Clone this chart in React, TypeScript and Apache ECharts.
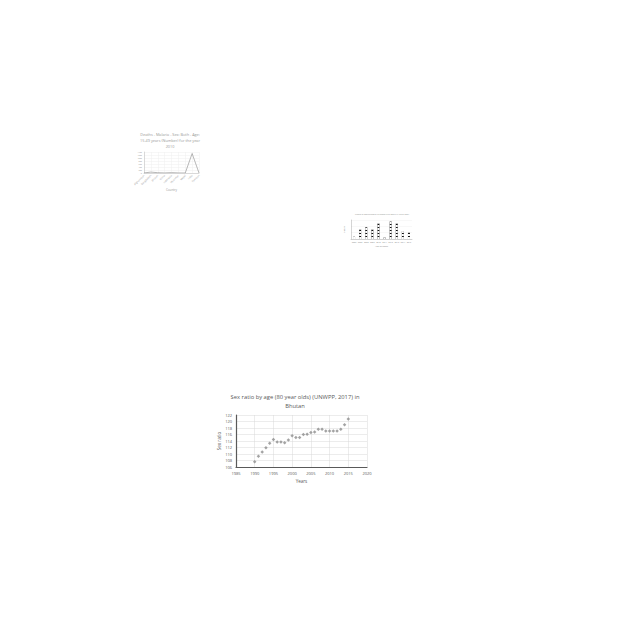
import React, { useEffect, useRef } from "react";
import * as echarts from "echarts";

// ---- Chart 1: malaria deaths (line) ----
const malariaCountries = ["Afghanistan", "Bangladesh", "Bhutan", "China", "Indonesia", "Myanmar", "Nepal", "India", "Pakistan"];
const malariaDeaths = [5, 60, 20, 5, 25, 5, 0, 1300, 0];

// ---- Chart 2: bar chart ----
const barCategories = ["2006", "2007", "2008", "2009", "2010", "2011", "2012", "2013", "2014", "2015"];
const barValues = [7, 30, 37, 30, 49, 5, 55, 49, 25, 20];

// ---- Chart 3: sex ratio of 80 year olds in Bhutan ----
const years = [1990, 1991, 1992, 1993, 1994, 1995, 1996, 1997, 1998, 1999, 2000, 2001, 2002, 2003, 2004, 2005, 2006, 2007, 2008, 2009, 2010, 2011, 2012, 2013, 2014, 2015];
const sexRatio = [107.6, 109.3, 110.6, 111.9, 113.3, 114.5, 113.7, 113.7, 113.5, 114.3, 115.6, 115.1, 115.1, 116.0, 116.1, 116.6, 116.8, 117.6, 117.6, 117.1, 117.1, 117.1, 117.1, 117.6, 119.0, 120.8];

const FONT = "'Open Sans', 'Liberation Sans', sans-serif";

export default function App() {
  const ref = useRef<HTMLDivElement>(null);
  useEffect(() => {
    document.body.style.margin = "0";
    const chart = echarts.init(ref.current!, undefined, { renderer: "svg" });
    const option: any = {
      animation: false,
      backgroundColor: "#ffffff",
      textStyle: { fontFamily: FONT },
      grid: [
        { left: 144, top: 152, width: 55, height: 21, containLabel: false },
        { left: 351, top: 220, width: 61, height: 19, containLabel: false },
        { left: 236, top: 415, width: 131, height: 52, containLabel: false },
      ],
      xAxis: [
        {
          gridIndex: 0,
          type: "category",
          data: malariaCountries,
          boundaryGap: false,
          name: "Country",
          nameLocation: "middle",
          nameGap: 11,
          nameTextStyle: { fontSize: 3, color: "#999" },
          axisLine: { lineStyle: { color: "#bbb", width: 0.5 } },
          axisTick: { show: false },
          axisLabel: { fontSize: 2.5, color: "#999", rotate: 45, margin: 2, interval: 0 },
          splitLine: { show: true, lineStyle: { color: "#eee", width: 0.5 } },
        },
        {
          gridIndex: 1,
          type: "category",
          data: barCategories,
          name: "Year of report",
          nameLocation: "middle",
          nameGap: 6,
          nameTextStyle: { fontSize: 2, color: "#888" },
          axisLine: { lineStyle: { color: "#aaa", width: 0.5 } },
          axisTick: { show: false },
          axisLabel: { fontSize: 2, color: "#888", margin: 2, interval: 0 },
        },
        {
          gridIndex: 2,
          type: "value",
          min: 1985,
          max: 2020,
          interval: 5,
          name: "Years",
          nameLocation: "middle",
          nameGap: 11,
          nameTextStyle: { fontSize: 4.5, color: "#595959" },
          axisLine: { lineStyle: { color: "#595959", width: 1.2 } },
          axisTick: { show: false },
          axisLabel: { fontSize: 4, color: "#595959", margin: 4, formatter: (v: number) => String(v) },
          splitLine: { show: true, lineStyle: { color: "#d9d9d9", width: 0.5 } },
        },
      ],
      yAxis: [
        {
          gridIndex: 0,
          type: "value",
          min: 0,
          max: 1400,
          interval: 200,
          axisLine: { show: true, lineStyle: { color: "#bbb", width: 0.5 } },
          axisTick: { show: false },
          axisLabel: { fontSize: 2, color: "#999", margin: 2, formatter: (v: number) => String(v) },
          splitLine: { show: true, lineStyle: { color: "#eee", width: 0.5 } },
        },
        {
          gridIndex: 1,
          type: "value",
          min: 0,
          max: 60,
          interval: 20,
          name: "Cases",
          nameLocation: "middle",
          nameGap: 6,
          nameTextStyle: { fontSize: 2.5, color: "#888" },
          axisLine: { show: true, lineStyle: { color: "#aaa", width: 0.5 } },
          axisTick: { show: false },
          axisLabel: { show: false },
          splitLine: { show: true, lineStyle: { color: "#f0f0f0", width: 0.5 } },
        },
        {
          gridIndex: 2,
          type: "value",
          min: 106,
          max: 122,
          interval: 2,
          name: "Sex ratio",
          nameLocation: "middle",
          nameGap: 12,
          nameTextStyle: { fontSize: 4.5, color: "#595959" },
          axisLine: { show: true, lineStyle: { color: "#595959", width: 1.2 } },
          axisTick: { show: false },
          axisLabel: { fontSize: 4, color: "#595959", margin: 4 },
          splitLine: { show: true, lineStyle: { color: "#d9d9d9", width: 0.5 } },
        },
      ],
      series: [
        {
          type: "line",
          xAxisIndex: 0,
          yAxisIndex: 0,
          data: malariaDeaths,
          symbol: "none",
          lineStyle: { color: "#999", width: 0.7 },
        },
        {
          type: "bar",
          xAxisIndex: 1,
          yAxisIndex: 1,
          data: barValues,
          barWidth: 2,
          itemStyle: {
            color: "#111",
            decal: { symbol: "rect", dashArrayX: [1, 0], dashArrayY: [1.5, 0.8], color: "#fff", symbolSize: 1, rotation: 0 },
          },
        },
        {
          type: "scatter",
          xAxisIndex: 2,
          yAxisIndex: 2,
          data: years.map((y, i) => [y, sexRatio[i]]),
          symbol: "diamond",
          symbolSize: 3.5,
          itemStyle: { color: "#8c8c8c" },
        },
      ],
      graphic: [
        {
          type: "text",
          x: 170,
          y: 131,
          style: {
            text: "Deaths - Malaria - Sex: Both - Age:\n15-49 years (Number) for the year\n2010",
            align: "center",
            verticalAlign: "top",
            fontSize: 3.8,
            lineHeight: 6,
            fill: "#999",
            fontFamily: FONT,
          },
        },
        {
          type: "text",
          x: 382,
          y: 213,
          style: {
            text: "Number of reported cases of the disease in the country by year of report",
            align: "center",
            verticalAlign: "top",
            fontSize: 1.6,
            fill: "#888",
            fontFamily: FONT,
          },
        },
        {
          type: "text",
          x: 295,
          y: 392,
          style: {
            text: "Sex ratio by age (80 year olds) (UNWPP, 2017) in\nBhutan",
            align: "center",
            verticalAlign: "top",
            fontSize: 5.8,
            lineHeight: 9,
            fill: "#595959",
            fontFamily: FONT,
          },
        },
      ],
    };
    chart.setOption(option);
    return () => chart.dispose();
  }, []);
  return <div ref={ref} style={{ width: 640, height: 640 }} />;
}
